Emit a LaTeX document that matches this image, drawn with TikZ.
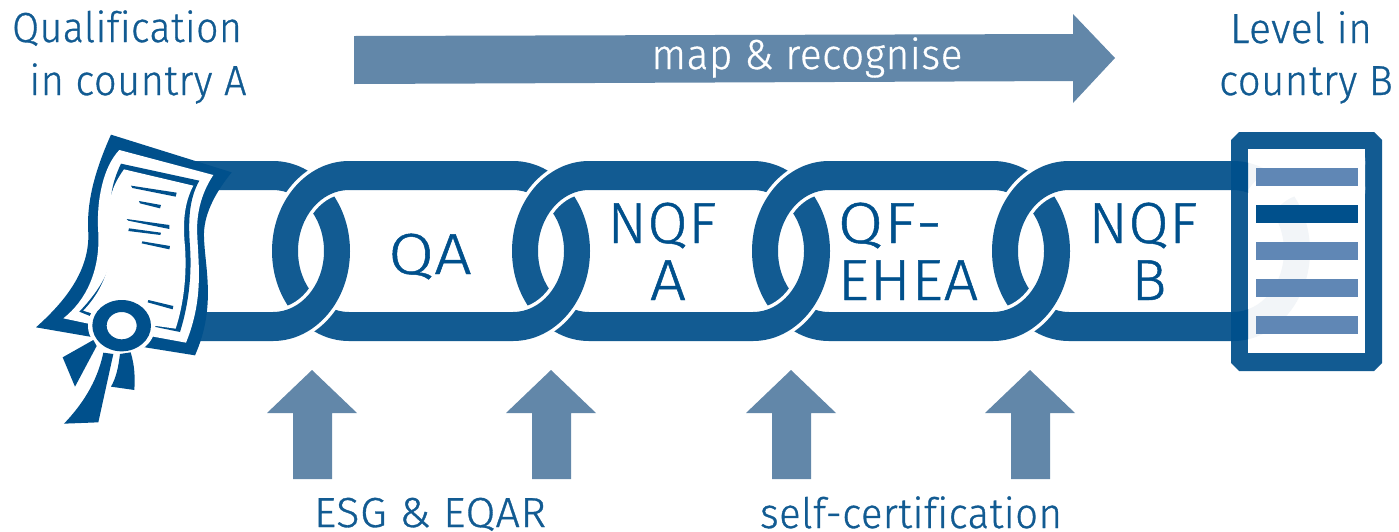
\documentclass[tikz,border=0pt]{standalone}
\usepackage{fontspec}
\usepackage{graphicx}
\setmainfont{Fira Sans Light}[Ligatures=NoCommon,LetterSpace=1.5,FakeBold=0.8]
\definecolor{linkc}{HTML}{125B92}
\definecolor{deep}{HTML}{00508C}
\definecolor{arrowc}{HTML}{6287A9}
\definecolor{barc}{HTML}{6087B5}
\definecolor{faint}{HTML}{F2F5F8}
\newcommand\sx[2]{\scalebox{#1}[1]{#2}}
\newcommand\linkp{(77,161) -- (241,161) .. controls (283.5,161) and (318,201.3) .. (318,251) .. controls (318,300.7) and (283.5,341) .. (241,341) -- (77,341) .. controls (34.5,341) and (0,300.7) .. (0,251) .. controls (0,201.3) and (34.5,161) .. (77,161) -- cycle (77,190) -- (241,190) .. controls (269.2,190) and (292,217.3) .. (292,251) .. controls (292,284.7) and (269.2,312) .. (241,312) -- (77,312) .. controls (48.8,312) and (26,284.7) .. (26,251) .. controls (26,217.3) and (48.8,190) .. (77,190) -- cycle}
\newcommand\chainlink[1]{\begin{scope}[shift={(#1,0)}]\draw[halo] \linkp;\fill[linkc,even odd rule] \linkp;\end{scope}}
\newcommand\overgo[1]{\begin{scope}\clip (#1+170,255) rectangle (#1+325,350);\chainlink{#1}\end{scope}}
\newcommand\uparr[1]{\fill[arrowc] (#1,370) -- (#1+45,413) -- (#1+20,413) -- (#1+20,479) -- (#1-19,479) -- (#1-19,413) -- (#1-45,413) -- cycle;}
\tikzset{
  halo/.style={white,line width=7pt,line join=round},
  bigtext/.style={font=\fontsize{58}{58}\selectfont,text=deep,anchor=base,inner sep=0pt},
  captext/.style={font=\fontsize{42}{42}\selectfont,text=linkc,anchor=base,inner sep=0pt},
  barbox/.style={fill=barc},
}
\begin{document}
\begin{tikzpicture}[x=1pt,y=-1pt]
\useasboundingbox (0,0) rectangle (1399,531);
% top arrow
\fill[arrowc] (354,36) -- (1073,34) -- (1073,14) -- (1115,58) -- (1073,103) -- (1073,81) -- (354,84) -- cycle;
% up arrows
\uparr{312}
\uparr{551}
\uparr{791}
\uparr{1030}
% chain
\begin{scope}\clip (190,150) rectangle (400,350);\chainlink{32}\end{scope}
\chainlink{272}
\chainlink{512}
\chainlink{752}
\chainlink{992}
\begin{scope}\clip (190,150) rectangle (400,350);\overgo{32}\end{scope}
\overgo{272}
\overgo{512}
\overgo{752}
% document
\fill[linkc] (1239,132) -- (1374,132) -- (1382,140) -- (1382,363) -- (1374,371) -- (1239,371) -- (1231,363) -- (1231,140) -- cycle;
\fill[white] (1248,149) rectangle (1365,353);
\begin{scope}
  \clip (1248,149) rectangle (1365,353);
  \begin{scope}[shift={(992,0)}]\fill[faint,even odd rule] \linkp;\end{scope}
  \begin{scope}\clip (1240,140) rectangle (1370,251);
    \begin{scope}[shift={(1232,0)}]\draw[white,line width=7pt] \linkp;\fill[white,even odd rule] \linkp;\end{scope}
  \end{scope}
\end{scope}
\begin{scope}
  \clip (1231,150) rectangle (1248,350);
  \begin{scope}[shift={(992,0)}]\fill[deep,even odd rule] \linkp;\end{scope}
\end{scope}
\fill[barbox] (1255.5,168) rectangle (1357.5,186);
\fill[deep] (1255.5,205) rectangle (1357.5,223);
\fill[barbox] (1255.5,242) rectangle (1357.5,260);
\fill[barbox] (1255.5,279) rectangle (1357.5,297);
\fill[barbox] (1255.5,316) rectangle (1357.5,334);
% certificate
\begin{scope}[shift={(0,120)},x=0.33333pt,y=-0.33333pt]
\fill[deep] (333,44) -- (695,157) .. controls (640,225) and (610,290) .. (612,350) .. controls (614,440) and (650,560) .. (585,706) -- (435,682) -- (270,650) -- (108,622) .. controls (200,540) and (268,450) .. (265,340) .. controls (258,240) and (290,140) .. (333,44) -- cycle;
\fill[white] (358,90) -- (640,165) .. controls (600,225) and (588,290) .. (592,350) .. controls (596,440) and (610,540) .. (558,668) -- (460,650) -- (270,612) -- (190,595) .. controls (260,540) and (300,450) .. (295,340) .. controls (288,240) and (310,140) .. (358,90) -- cycle;
\fill[deep] (363,131) -- (598,182) .. controls (565,240) and (565,310) .. (570,380) .. controls (575,450) and (570,540) .. (540,636) -- (462,620) -- (275,590) -- (238,575) .. controls (300,510) and (345,440) .. (345,340) .. controls (320,250) and (335,190) .. (363,131) -- cycle;
\fill[white] (372,148) -- (580,197) .. controls (552,250) and (548,310) .. (555,380) .. controls (560,450) and (555,540) .. (527,626) -- (462,617) -- (275,580) -- (250,572) .. controls (310,510) and (338,430) .. (335,340) .. controls (315,250) and (335,200) .. (372,148) -- cycle;
\fill[deep] (393,197) -- (530,218) -- (527,230) -- (397,204) -- cycle;
\fill[deep] (417,243) -- (483,255) -- (480,265) -- (420,250) -- cycle;
\fill[deep] (380,297) -- (508,315) -- (508,327) -- (385,302) -- cycle;
\fill[deep] (387,325) -- (483,338) -- (481,345) -- (385,333) -- cycle;
\fill[deep] (427,364) -- (510,378) -- (508,388) -- (425,370) -- cycle;
\fill[deep] (445,540) -- (520,558) -- (518,568) -- (443,547) -- cycle;
\fill[white] (365,617) ellipse [x radius=101, y radius=88];
\fill[deep,even odd rule] (365,617) ellipse [x radius=88, y radius=77] (365,617) ellipse [x radius=45, y radius=41];
\fill[deep] (280,660) -- (290,678) -- (225,800) -- (188,712) -- cycle;
\fill[deep] (310,698) -- (340,702) -- (295,907) -- (192,911) .. controls (260,840) and (295,770) .. (310,698) -- cycle;
\fill[deep] (360,702) -- (392,697) .. controls (405,740) and (405,775) .. (403,810) -- (333,800) .. controls (350,770) and (355,740) .. (360,702) -- cycle;
\end{scope}
% labels
\node[captext] (qual) at (127,42) {\sx{.93}{Qualification}};
\node[captext] (qualb) at (138,95) {\sx{.943}{in country A}};
\node[captext] (lev) at (1301,43) {\sx{.965}{Level in}};
\node[captext] (levb) at (1306,95) {\sx{.95}{country B}};
\node[captext,text=white] (map) at (807,69) {\sx{.9625}{map \& recognise}};
\node[bigtext] (qa) at (430,274) {\sx{1.14}{QA}};
\node[bigtext] (nqfa) at (662,243) {NQF};
\node[bigtext] (a) at (668,300) {\sx{1.1}{A}};
\node[bigtext] (qf) at (890,243) {\sx{1.13}{QF-}};
\node[bigtext] (ehea) at (908,300) {\sx{1.05}{EHEA}};
\node[bigtext] (nqfb) at (1143,243) {NQF};
\node[bigtext] (b) at (1149,300) {B};
\node[captext] (esg) at (430,527) {\sx{1.027}{ESG \& EQAR}};
\node[captext] (self) at (911,528) {\sx{.95}{self-certification}};
\end{tikzpicture}
\end{document}
